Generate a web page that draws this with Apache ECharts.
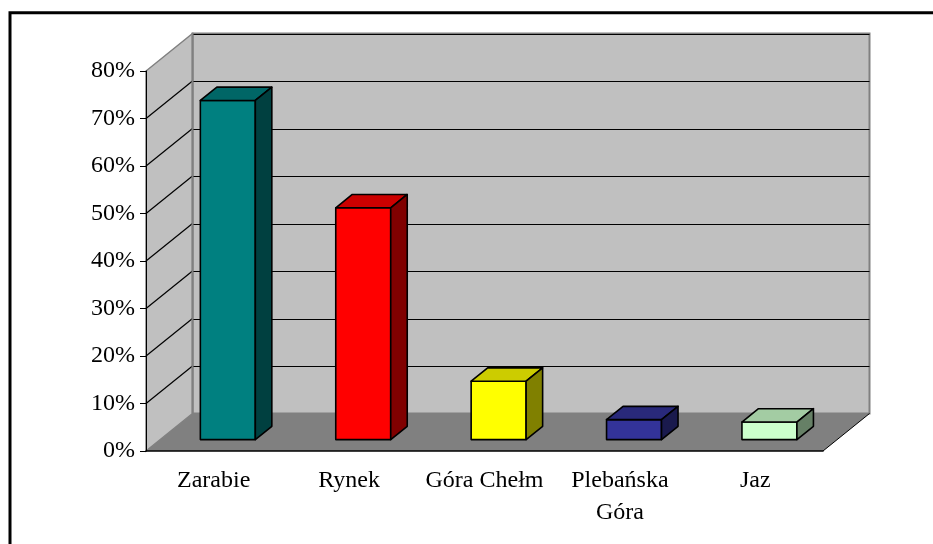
<!DOCTYPE html>
<html><head><meta charset="utf-8">
<script src="https://cdn.jsdelivr.net/npm/echarts@6/dist/echarts.min.js"></script>
<style>html,body{margin:0;padding:0;background:#fff}#c{width:933px;height:544px}</style>
</head><body><div id="c"></div>
<script>
const categories = ['Zarabie', 'Rynek', 'Góra Chełm', 'Plebańska Góra', 'Jaz'];
const values = [0.714, 0.488, 0.123, 0.042, 0.037];
const barColors = ['#008080', '#ff0000', '#ffff00', '#333399', '#ccffcc'];
const yTicks = [0, 0.1, 0.2, 0.3, 0.4, 0.5, 0.6, 0.7, 0.8];
const yTickLabels = ['0%', '10%', '20%', '30%', '40%', '50%', '60%', '70%', '80%'];

const DEPTH = [46.5, -37.5];
const BAR_FRONT = 0.304, BAR_BACK = 0.659, BAR_HALF = 0.203;
const FONT = '"Liberation Serif","Times New Roman",serif';

function shade(hex, k) {
  const n = parseInt(hex.slice(1), 16);
  const r = Math.round(((n >> 16) & 255) * k), g = Math.round(((n >> 8) & 255) * k), b = Math.round((n & 255) * k);
  return 'rgb(' + r + ',' + g + ',' + b + ')';
}

const chart = echarts.init(document.getElementById('c'), null, { renderer: 'canvas' });

function renderWalls(params, api) {
  const bandW = api.size([1, 0])[0];
  const p0 = api.coord([0, 0]);
  const gx0 = p0[0] - bandW / 2;
  const gx1 = gx0 + categories.length * bandW;
  const y0 = p0[1];
  const ytop = api.coord([0, yTicks[yTicks.length - 1]])[1];
  const dx = DEPTH[0], dy = DEPTH[1];
  const children = [];
  children.push({ type: 'polygon', shape: { points: [[gx0 + dx, ytop + dy], [gx1 + dx, ytop + dy], [gx1 + dx, y0 + dy], [gx0 + dx, y0 + dy]] },
    style: { fill: '#c0c0c0', stroke: '#808080', lineWidth: 2 } });
  children.push({ type: 'polygon', shape: { points: [[gx0, y0], [gx0, ytop], [gx0 + dx, ytop + dy], [gx0 + dx, y0 + dy]] },
    style: { fill: '#c0c0c0', stroke: '#808080', lineWidth: 1.5 } });
  children.push({ type: 'polygon', shape: { points: [[gx0, y0], [gx1, y0], [gx1 + dx, y0 + dy], [gx0 + dx, y0 + dy]] },
    style: { fill: '#808080' } });
  children.push({ type: 'line', shape: { x1: gx1, y1: y0, x2: gx1 + dx, y2: y0 + dy }, style: { stroke: '#000', lineWidth: 1 } });
  yTicks.forEach(function (t) {
    if (t === 0) return;
    const y = Math.round(api.coord([0, t])[1] + dy) + 0.5;
    children.push({ type: 'line', shape: { x1: gx0 + dx, y1: y, x2: gx1 + dx, y2: y }, style: { stroke: '#000', lineWidth: 1 } });
    if (t < yTicks[yTicks.length - 1]) {
      const yf = api.coord([0, t])[1];
      children.push({ type: 'line', shape: { x1: gx0, y1: yf, x2: gx0 + dx, y2: yf + dy }, style: { stroke: '#000', lineWidth: 1.2 } });
    }
  });
  children.push({ type: 'line', shape: { x1: gx0 + dx, y1: ytop + dy, x2: gx0 + dx, y2: y0 + dy }, style: { stroke: '#808080', lineWidth: 2 } });
  return { type: 'group', children: children };
}

function renderBar(params, api) {
  const i = api.value(0), v = api.value(1);
  const bandW = api.size([1, 0])[0];
  const base = api.coord([i, 0]);
  const topP = api.coord([i, v]);
  const hw = bandW * BAR_HALF;
  const L = base[0] - hw, R = base[0] + hw;
  const f1x = DEPTH[0] * BAR_FRONT, f1y = DEPTH[1] * BAR_FRONT;
  const f2x = DEPTH[0] * BAR_BACK, f2y = DEPTH[1] * BAR_BACK;
  const y0 = base[1], yv = topP[1];
  const col = barColors[params.dataIndex];
  const st = { stroke: '#000', lineWidth: 1.6, lineJoin: 'round' };
  return { type: 'group', children: [
    { type: 'polygon', shape: { points: [[L + f1x, yv + f1y], [R + f1x, yv + f1y], [R + f1x, y0 + f1y], [L + f1x, y0 + f1y]] }, style: Object.assign({ fill: col }, st) },
    { type: 'polygon', shape: { points: [[L + f1x, yv + f1y], [R + f1x, yv + f1y], [R + f2x, yv + f2y], [L + f2x, yv + f2y]] }, style: Object.assign({ fill: shade(col, 0.8) }, st) },
    { type: 'polygon', shape: { points: [[R + f1x, yv + f1y], [R + f2x, yv + f2y], [R + f2x, y0 + f2y], [R + f1x, y0 + f1y]] }, style: Object.assign({ fill: shade(col, 0.5) }, st) }
  ] };
}

const option = {
  animation: false,
  graphic: [{ type: 'rect', shape: { x: 10, y: 12.8, width: 1000, height: 700 }, style: { fill: 'none', stroke: '#000', lineWidth: 3 }, z: 100 }],
  grid: { left: 146, top: 71, width: 677, height: 380, containLabel: false },
  xAxis: {
    type: 'category', data: categories, z: 10,
    axisLine: { lineStyle: { color: '#000', width: 1.5 } },
    axisTick: { length: 6, lineStyle: { color: '#000', width: 1 } },
    axisLabel: { interval: 0, fontFamily: FONT, fontSize: 24, color: '#000', margin: 14, lineHeight: 32,
      formatter: function (v) { return v.replace('Plebańska ', 'Plebańska\n'); } }
  },
  yAxis: {
    type: 'value', min: 0, max: 0.8, interval: 0.1, z: 10,
    axisLine: { show: true, lineStyle: { color: '#000', width: 1 } },
    axisTick: { show: true, length: 6, lineStyle: { color: '#000' } },
    splitLine: { show: false },
    axisLabel: { fontFamily: FONT, fontSize: 24, color: '#000', margin: 11,
      formatter: function (v) { return yTickLabels[Math.round(v * 10)]; } }
  },
  series: [
    { type: 'custom', renderItem: renderWalls, data: [[0, 0]], silent: true, z: 1 },
    { type: 'custom', renderItem: renderBar, data: values.map(function (v, i) { return [i, v]; }), z: 3 }
  ]
};
chart.setOption(option);
</script></body></html>
